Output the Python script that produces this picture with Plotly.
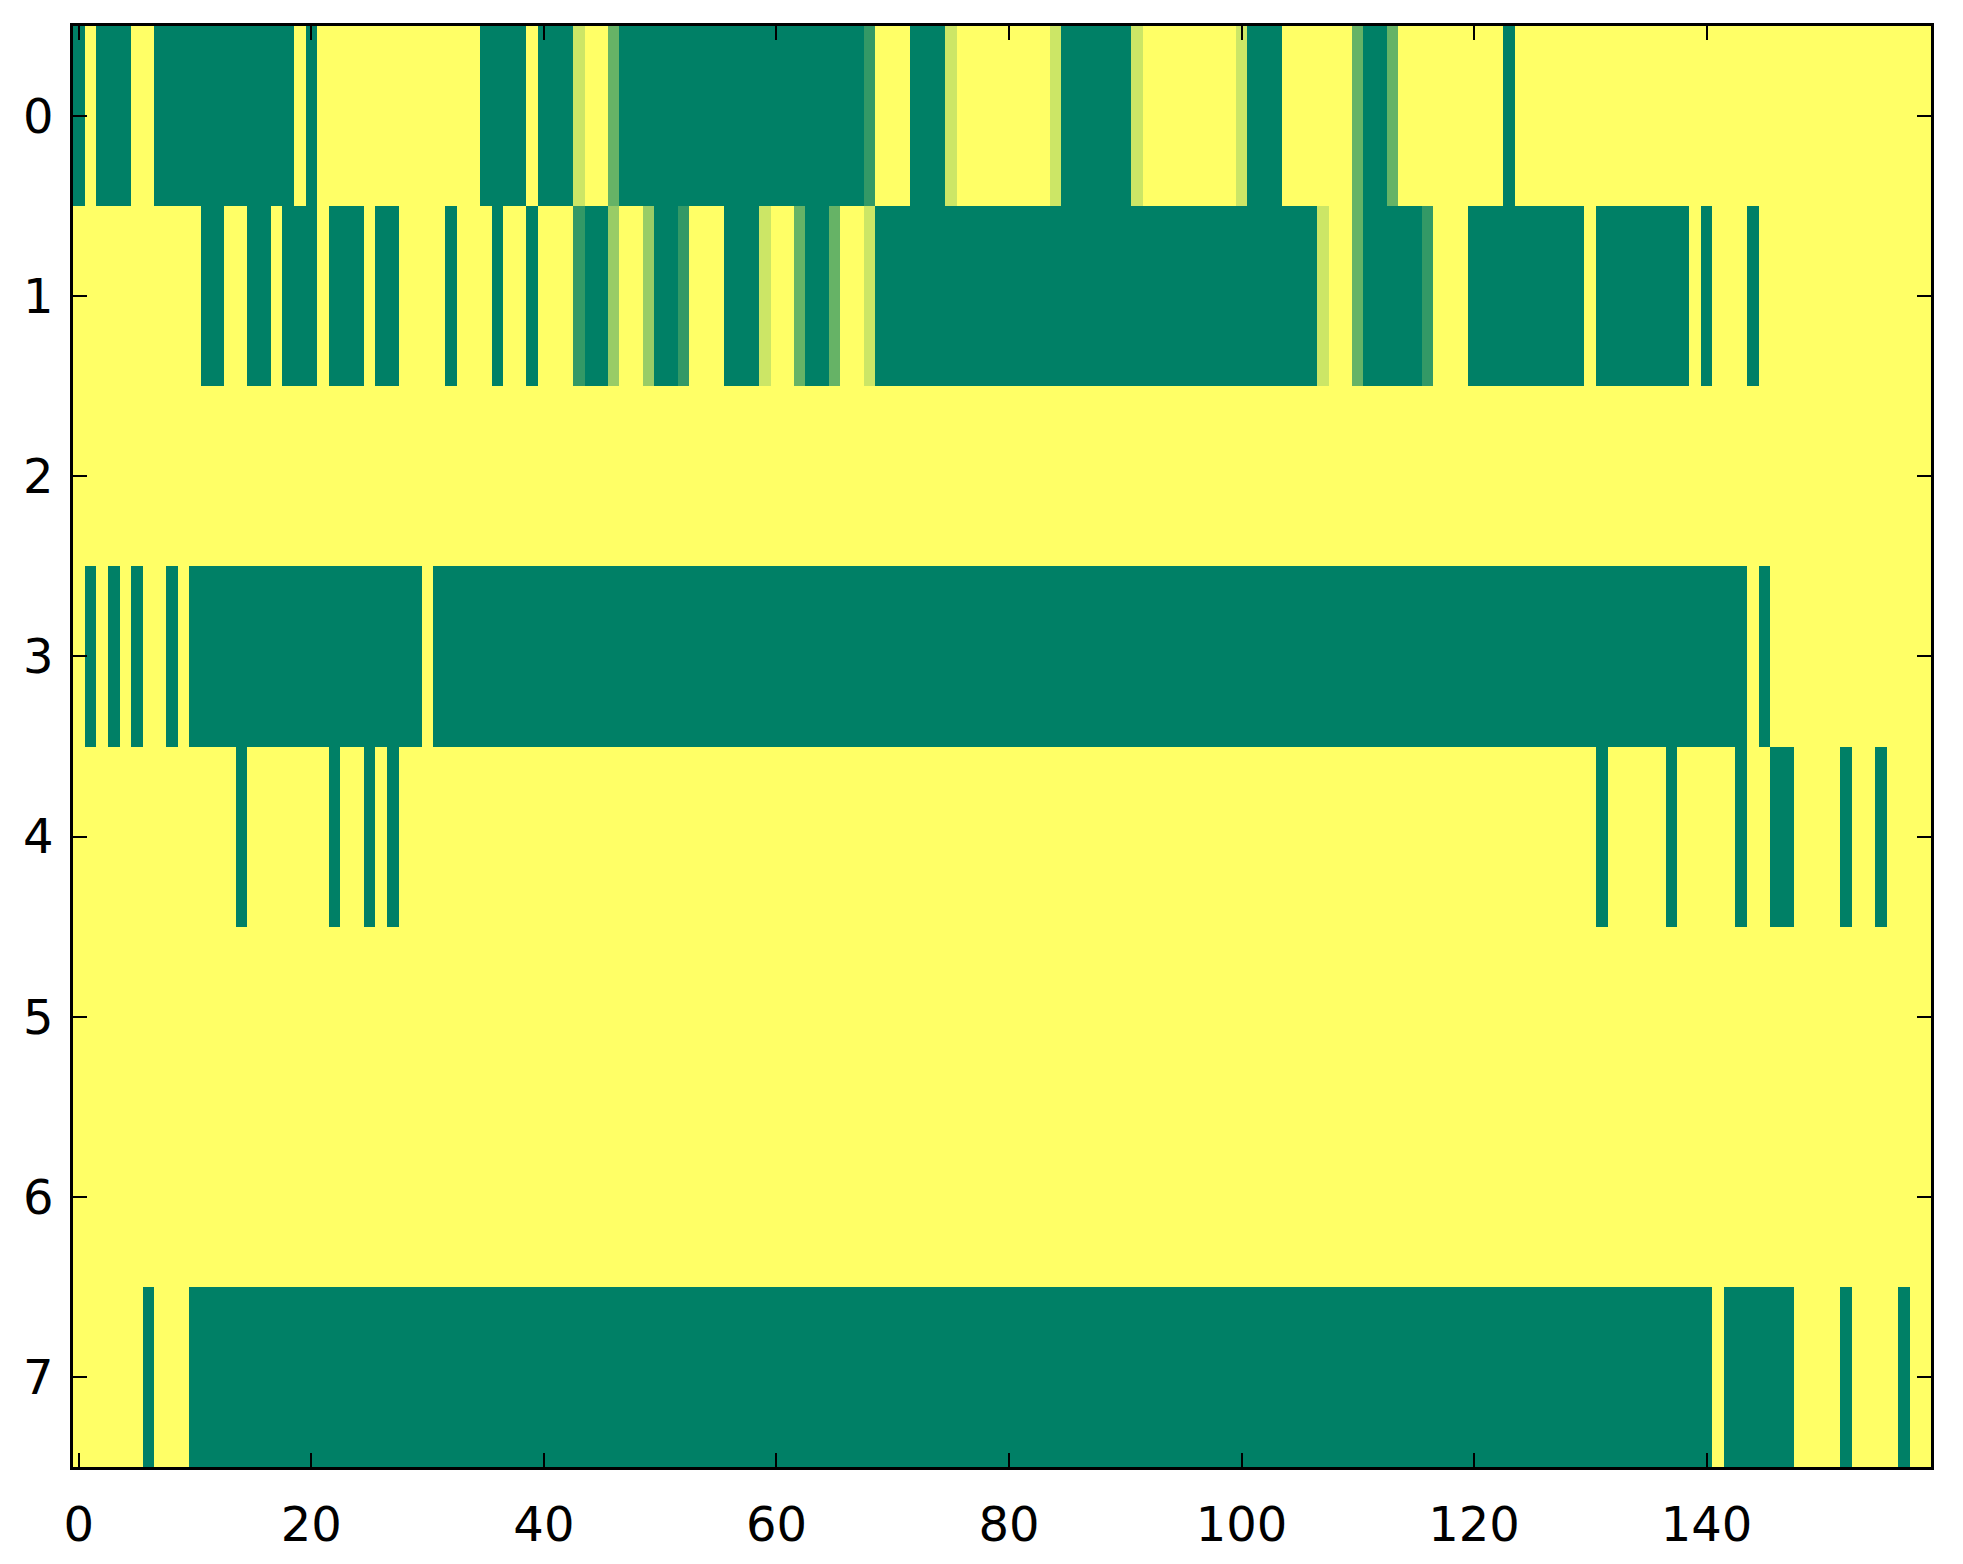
import plotly.graph_objects as go

# Column indices 0..159, row indices 0..7
columns = list(range(160))
rows = [0, 1, 2, 3, 4, 5, 6, 7]
x_tick_vals = [0, 20, 40, 60, 80, 100, 120, 140]
x_tick_text = ["0", "20", "40", "60", "80", "100", "120", "140"]
y_tick_vals = [0, 1, 2, 3, 4, 5, 6, 7]
y_tick_text = ["0", "1", "2", "3", "4", "5", "6", "7"]

row0 = [
    0, 1, 0, 0, 0, 1, 1, 0, 0, 0, 0, 0, 0, 0, 0, 0, 0, 0, 0, 1,
    0, 1, 1, 1, 1, 1, 1, 1, 1, 1, 1, 1, 1, 1, 1, 0, 0, 0, 0, 1,
    0, 0, 0, 0.8, 1, 1, 0.4, 0, 0, 0, 0, 0, 0, 0, 0, 0, 0, 0, 0, 0,
    0, 0, 0, 0, 0, 0, 0, 0, 0.2, 1, 1, 1, 0, 0, 0, 0.8, 1, 1, 1, 1,
    1, 1, 1, 1, 0.8, 0, 0, 0, 0, 0, 0, 0.8, 1, 1, 1, 1, 1, 1, 1, 1,
    0.8, 0, 0, 0, 1, 1, 1, 1, 1, 1, 0.4, 0, 0, 0.4, 1, 1, 1, 1, 1, 1,
    1, 1, 1, 0, 1, 1, 1, 1, 1, 1, 1, 1, 1, 1, 1, 1, 1, 1, 1, 1,
    1, 1, 1, 1, 1, 1, 1, 1, 1, 1, 1, 1, 1, 1, 1, 1, 1, 1, 1, 1,
]
row1 = [
    1, 1, 1, 1, 1, 1, 1, 1, 1, 1, 1, 0, 0, 1, 1, 0, 0, 1, 0, 0,
    0, 1, 0, 0, 0, 1, 0, 0, 1, 1, 1, 1, 0, 1, 1, 1, 0, 1, 1, 0,
    1, 1, 1, 0.2, 0, 0, 0.6, 1, 1, 0.6, 0, 0, 0.2, 1, 1, 1, 0, 0, 0, 0.8,
    1, 1, 0.4, 0, 0, 0.4, 1, 1, 0.8, 0, 0, 0, 0, 0, 0, 0, 0, 0, 0, 0,
    0, 0, 0, 0, 0, 0, 0, 0, 0, 0, 0, 0, 0, 0, 0, 0, 0, 0, 0, 0,
    0, 0, 0, 0, 0, 0, 0, 0.8, 1, 1, 0.4, 0, 0, 0, 0, 0, 0.2, 1, 1, 1,
    0, 0, 0, 0, 0, 0, 0, 0, 0, 0, 1, 0, 0, 0, 0, 0, 0, 0, 0, 1,
    0, 1, 1, 1, 0, 1, 1, 1, 1, 1, 1, 1, 1, 1, 1, 1, 1, 1, 1, 1,
]
row2 = [
    1, 1, 1, 1, 1, 1, 1, 1, 1, 1, 1, 1, 1, 1, 1, 1, 1, 1, 1, 1,
    1, 1, 1, 1, 1, 1, 1, 1, 1, 1, 1, 1, 1, 1, 1, 1, 1, 1, 1, 1,
    1, 1, 1, 1, 1, 1, 1, 1, 1, 1, 1, 1, 1, 1, 1, 1, 1, 1, 1, 1,
    1, 1, 1, 1, 1, 1, 1, 1, 1, 1, 1, 1, 1, 1, 1, 1, 1, 1, 1, 1,
    1, 1, 1, 1, 1, 1, 1, 1, 1, 1, 1, 1, 1, 1, 1, 1, 1, 1, 1, 1,
    1, 1, 1, 1, 1, 1, 1, 1, 1, 1, 1, 1, 1, 1, 1, 1, 1, 1, 1, 1,
    1, 1, 1, 1, 1, 1, 1, 1, 1, 1, 1, 1, 1, 1, 1, 1, 1, 1, 1, 1,
    1, 1, 1, 1, 1, 1, 1, 1, 1, 1, 1, 1, 1, 1, 1, 1, 1, 1, 1, 1,
]
row3 = [
    1, 0, 1, 0, 1, 0, 1, 1, 0, 1, 0, 0, 0, 0, 0, 0, 0, 0, 0, 0,
    0, 0, 0, 0, 0, 0, 0, 0, 0, 0, 1, 0, 0, 0, 0, 0, 0, 0, 0, 0,
    0, 0, 0, 0, 0, 0, 0, 0, 0, 0, 0, 0, 0, 0, 0, 0, 0, 0, 0, 0,
    0, 0, 0, 0, 0, 0, 0, 0, 0, 0, 0, 0, 0, 0, 0, 0, 0, 0, 0, 0,
    0, 0, 0, 0, 0, 0, 0, 0, 0, 0, 0, 0, 0, 0, 0, 0, 0, 0, 0, 0,
    0, 0, 0, 0, 0, 0, 0, 0, 0, 0, 0, 0, 0, 0, 0, 0, 0, 0, 0, 0,
    0, 0, 0, 0, 0, 0, 0, 0, 0, 0, 0, 0, 0, 0, 0, 0, 0, 0, 0, 0,
    0, 0, 0, 0, 1, 0, 1, 1, 1, 1, 1, 1, 1, 1, 1, 1, 1, 1, 1, 1,
]
row4 = [
    1, 1, 1, 1, 1, 1, 1, 1, 1, 1, 1, 1, 1, 1, 0, 1, 1, 1, 1, 1,
    1, 1, 0, 1, 1, 0, 1, 0, 1, 1, 1, 1, 1, 1, 1, 1, 1, 1, 1, 1,
    1, 1, 1, 1, 1, 1, 1, 1, 1, 1, 1, 1, 1, 1, 1, 1, 1, 1, 1, 1,
    1, 1, 1, 1, 1, 1, 1, 1, 1, 1, 1, 1, 1, 1, 1, 1, 1, 1, 1, 1,
    1, 1, 1, 1, 1, 1, 1, 1, 1, 1, 1, 1, 1, 1, 1, 1, 1, 1, 1, 1,
    1, 1, 1, 1, 1, 1, 1, 1, 1, 1, 1, 1, 1, 1, 1, 1, 1, 1, 1, 1,
    1, 1, 1, 1, 1, 1, 1, 1, 1, 1, 1, 0, 1, 1, 1, 1, 1, 0, 1, 1,
    1, 1, 1, 0, 1, 1, 0, 0, 1, 1, 1, 1, 0, 1, 1, 0, 1, 1, 1, 1,
]
row5 = [
    1, 1, 1, 1, 1, 1, 1, 1, 1, 1, 1, 1, 1, 1, 1, 1, 1, 1, 1, 1,
    1, 1, 1, 1, 1, 1, 1, 1, 1, 1, 1, 1, 1, 1, 1, 1, 1, 1, 1, 1,
    1, 1, 1, 1, 1, 1, 1, 1, 1, 1, 1, 1, 1, 1, 1, 1, 1, 1, 1, 1,
    1, 1, 1, 1, 1, 1, 1, 1, 1, 1, 1, 1, 1, 1, 1, 1, 1, 1, 1, 1,
    1, 1, 1, 1, 1, 1, 1, 1, 1, 1, 1, 1, 1, 1, 1, 1, 1, 1, 1, 1,
    1, 1, 1, 1, 1, 1, 1, 1, 1, 1, 1, 1, 1, 1, 1, 1, 1, 1, 1, 1,
    1, 1, 1, 1, 1, 1, 1, 1, 1, 1, 1, 1, 1, 1, 1, 1, 1, 1, 1, 1,
    1, 1, 1, 1, 1, 1, 1, 1, 1, 1, 1, 1, 1, 1, 1, 1, 1, 1, 1, 1,
]
row6 = [
    1, 1, 1, 1, 1, 1, 1, 1, 1, 1, 1, 1, 1, 1, 1, 1, 1, 1, 1, 1,
    1, 1, 1, 1, 1, 1, 1, 1, 1, 1, 1, 1, 1, 1, 1, 1, 1, 1, 1, 1,
    1, 1, 1, 1, 1, 1, 1, 1, 1, 1, 1, 1, 1, 1, 1, 1, 1, 1, 1, 1,
    1, 1, 1, 1, 1, 1, 1, 1, 1, 1, 1, 1, 1, 1, 1, 1, 1, 1, 1, 1,
    1, 1, 1, 1, 1, 1, 1, 1, 1, 1, 1, 1, 1, 1, 1, 1, 1, 1, 1, 1,
    1, 1, 1, 1, 1, 1, 1, 1, 1, 1, 1, 1, 1, 1, 1, 1, 1, 1, 1, 1,
    1, 1, 1, 1, 1, 1, 1, 1, 1, 1, 1, 1, 1, 1, 1, 1, 1, 1, 1, 1,
    1, 1, 1, 1, 1, 1, 1, 1, 1, 1, 1, 1, 1, 1, 1, 1, 1, 1, 1, 1,
]
row7 = [
    1, 1, 1, 1, 1, 1, 0, 1, 1, 1, 0, 0, 0, 0, 0, 0, 0, 0, 0, 0,
    0, 0, 0, 0, 0, 0, 0, 0, 0, 0, 0, 0, 0, 0, 0, 0, 0, 0, 0, 0,
    0, 0, 0, 0, 0, 0, 0, 0, 0, 0, 0, 0, 0, 0, 0, 0, 0, 0, 0, 0,
    0, 0, 0, 0, 0, 0, 0, 0, 0, 0, 0, 0, 0, 0, 0, 0, 0, 0, 0, 0,
    0, 0, 0, 0, 0, 0, 0, 0, 0, 0, 0, 0, 0, 0, 0, 0, 0, 0, 0, 0,
    0, 0, 0, 0, 0, 0, 0, 0, 0, 0, 0, 0, 0, 0, 0, 0, 0, 0, 0, 0,
    0, 0, 0, 0, 0, 0, 0, 0, 0, 0, 0, 0, 0, 0, 0, 0, 0, 0, 0, 0,
    0, 1, 0, 0, 0, 0, 0, 0, 1, 1, 1, 1, 0, 1, 1, 1, 1, 0, 1, 1,
]

matrix = [row0, row1, row2, row3, row4, row5, row6, row7]
for r in matrix:
    assert len(r) == 160, len(r)

# matplotlib "summer" colormap
summer = [[0.0, "rgb(0,128,102)"], [1.0, "rgb(255,255,102)"]]

fig = go.Figure(
    go.Heatmap(
        z=matrix,
        x=columns,
        y=rows,
        colorscale=summer,
        zmin=0,
        zmax=1,
        showscale=False,
        hoverinfo="skip",
    )
)

axis_common = dict(
    showgrid=False,
    zeroline=False,
    showline=True,
    linecolor="black",
    linewidth=2.7,
    mirror="ticks",
    ticks="inside",
    ticklen=14,
    tickwidth=1.6,
    tickcolor="black",
    tickfont=dict(family="DejaVu Sans", size=48, color="black"),
)

fig.update_xaxes(
    range=[-0.5, 159.3],
    tickmode="array",
    tickvals=x_tick_vals,
    ticktext=x_tick_text,
    ticklabelstandoff=14,
    **axis_common,
)
fig.update_yaxes(
    range=[7.5, -0.5],
    tickmode="array",
    tickvals=y_tick_vals,
    ticktext=y_tick_text,
    ticklabelstandoff=7,
    **axis_common,
)

fig.update_layout(
    width=1955,
    height=1556,
    margin=dict(l=65, r=32, t=18, b=95),
    paper_bgcolor="white",
    plot_bgcolor="white",
    font=dict(family="DejaVu Sans", color="black"),
)

fig.write_html("out.html")
